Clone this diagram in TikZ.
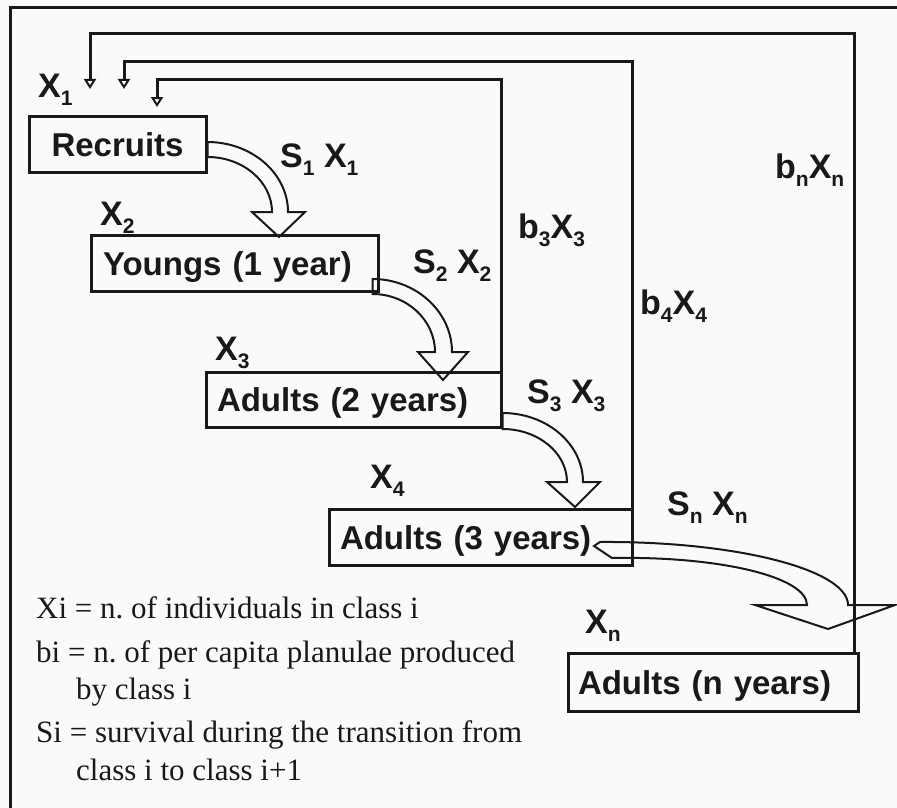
\documentclass[tikz,border=0pt]{standalone}
\usepackage{fontspec}
\setmainfont{Liberation Serif}
\setsansfont{Liberation Sans}
\usetikzlibrary{arrows.meta,calc}
\definecolor{bg}{RGB}{250,250,250}
\definecolor{ink}{RGB}{25,25,25}
\newcommand\lo[1]{\raisebox{-8pt}{\fontsize{21}{21}\selectfont #1}}
\frenchspacing
\begin{document}
\begin{tikzpicture}[x=1pt,y=-1pt,
  stagebox/.style={draw=ink, line width=3pt, minimum height=56pt, align=left,
    font=\fontsize{33}{36}\selectfont\sffamily\bfseries, text=ink,
    inner ysep=0pt, text height=24pt, text depth=0pt},
  lbl/.style={anchor=base west, inner sep=0pt, font=\fontsize{34}{36}\selectfont\sffamily\bfseries, text=ink},
  fb/.style={draw=ink, line width=3pt, -{Triangle[open,width=12pt,length=10pt,line width=2pt]}},
  blk/.style={draw=ink, line width=2pt, line join=miter},
  leg/.style={anchor=base west, inner sep=0pt, font=\fontsize{31}{36}\selectfont, text=ink}]

\fill[bg] (0,0) rectangle (897,808);
\useasboundingbox (0,0) rectangle (897,808);
\draw[ink, line width=3pt] (10,808) -- (10,8) -- (897,8);

% stage boxes
\node[stagebox, inner xsep=22.5pt, text width=132pt] (rec) at (117.5,144) {Recruits};
\node[stagebox, inner xsep=12pt, text width=263pt] (yng) at (234.5,263.5) {Youngs (1 year)};
\node[stagebox, inner xsep=11pt, text width=273pt, minimum height=55pt] (ad2) at (353.5,399.5) {Adults (2 years)};
\node[stagebox, inner xsep=11pt, text width=281pt] (ad3) at (480.5,537) {Adults (3 years)};
\node[stagebox, inner xsep=10pt, text width=270pt, minimum height=58pt] (adn) at (713,682) {Adults (n years)};

% feedback (fecundity) connectors
\coordinate (t1) at (90,89);
\coordinate (t2) at (124,89);
\coordinate (t3) at (157,107);
\draw[fb] ($(adn.north east)+(-5.5,1.5)$) |- ($(t1)+(0,-55)$) -- (t1);
\draw[fb] ($(ad3.north east)+(-1.5,1.5)$) |- ($(t2)+(0,-27)$) -- (t2);
\draw[fb] ($(ad2.north east)+(-1.5,1.5)$) |- ($(t3)+(0,-27)$) -- (t3);

% survival block arrows
\draw[blk] ($(rec.east)+(0,-2)$) .. controls (251.7,142) and (288,173.4) .. (288,212)
  -- (305,212) -- (279,237) -- (252,212) -- (272,212)
  .. controls (272,181.6) and (242.9,157) .. ($(rec.east)+(0,13)$) -- cycle;
\draw[blk] ($(yng.east)+(-7,15.5)$) .. controls (416,279) and (452,311.7) .. (452,352)
  -- (468,352) -- (443,380) -- (418,352) -- (435,352)
  .. controls (435,320) and (406.8,294) .. ($(yng.east)+(-7,30.5)$) -- cycle;
\draw[blk] ($(ad2.east)+(0,13.5)$) .. controls (546.7,413) and (583,443.9) .. (583,482)
  -- (600,482) -- (575,507) -- (547,482) -- (567,482)
  .. controls (567,452.7) and (537.9,429) .. ($(ad2.east)+(0,29.5)$) -- cycle;
\draw[blk] ($(ad3.east)+(-39.5,9)$) -- (600,542) .. controls (737,541) and (848,570) .. (848,605)
  -- (895,605) -- (828,629) -- (755,605) -- (807,605)
  .. controls (807,577) and (720,556) .. (612,558) -- cycle;

% labels
\node[lbl] (x1) at (38,97) {X\lo{1}};
\node[lbl] (s1) at (280,167) {S\lo{1} X\lo{1}};
\node[lbl] (x2) at (100,225) {X\lo{2}};
\node[lbl] (s2) at (413,273) {S\lo{2} X\lo{2}};
\node[lbl] (b3) at (518,238) {b\lo{3}X\lo{3}};
\node[lbl] (bn) at (775,178) {b\lo{n}X\lo{n}};
\node[lbl] (b4) at (640,314) {b\lo{4}X\lo{4}};
\node[lbl] (x3) at (215,360) {X\lo{3}};
\node[lbl] (s3) at (527,403) {S\lo{3} X\lo{3}};
\node[lbl] (x4) at (370,488) {X\lo{4}};
\node[lbl] (sn) at (667,515) {S\lo{n} X\lo{n}};
\node[lbl] (xn) at (585,633) {X\lo{n}};

% legend
\node[leg] (l1) at (36,618) {Xi = n. of individuals in class i};
\node[leg] (l2) at (36,662) {bi = n. of per capita planulae produced};
\node[leg] (l3) at (76,699) {by class i};
\node[leg] (l4) at (36,742) {Si = survival during the transition from};
\node[leg] (l5) at (76,780) {class i to class i+1};
\end{tikzpicture}
\end{document}
